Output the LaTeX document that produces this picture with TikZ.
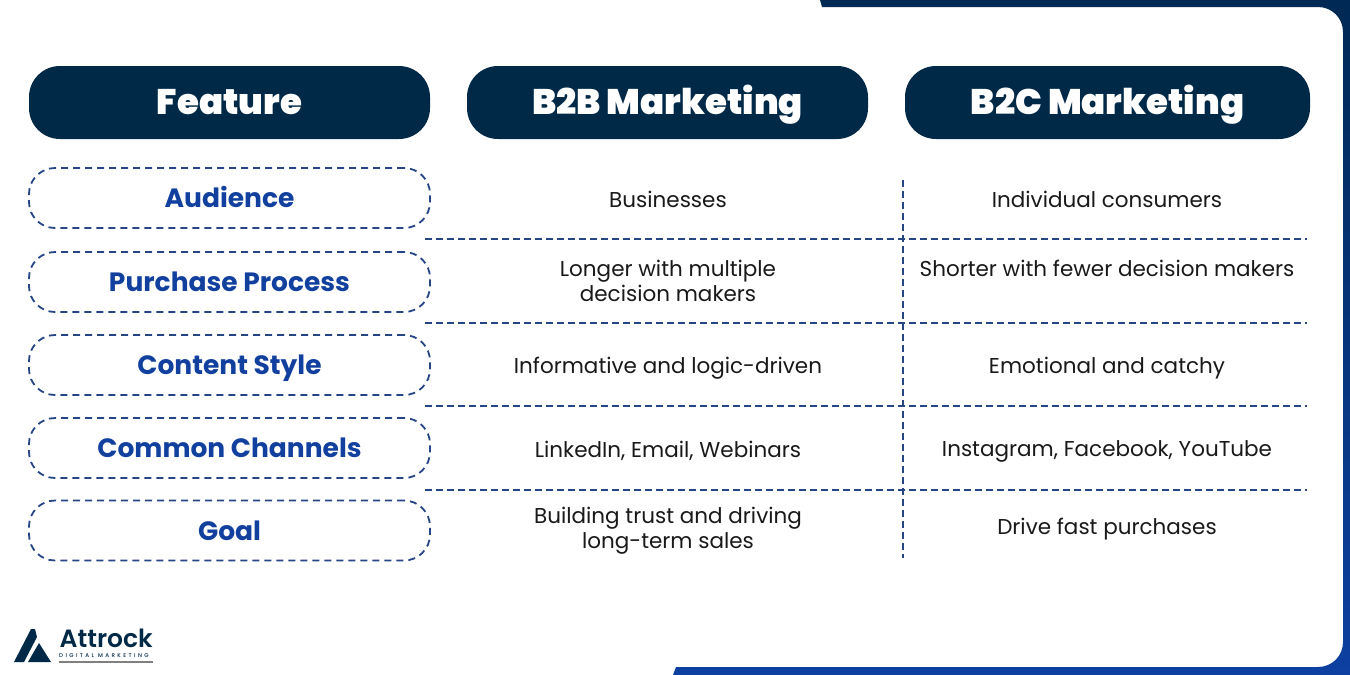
\documentclass[tikz,border=0pt]{standalone}
\usepackage{fontspec}
\setmainfont{Poppins}
\newfontfamily\headfont{Poppins Black}
\newfontfamily\rowfont{Poppins Bold}
\newfontfamily\logofont{Poppins SemiBold}
\newfontfamily\logosmall[LetterSpace=44]{Poppins Medium}
\definecolor{navyhead}{rgb}{0.,0.16,0.28}
\definecolor{framenavy}{rgb}{0.,0.16,0.33}
\definecolor{frameblue}{rgb}{0.05,0.25,0.63}
\definecolor{rowblue}{rgb}{0.07,0.25,0.62}
\definecolor{dashblue}{rgb}{0.15,0.27,0.52}
\definecolor{bodygrey}{rgb}{0.1,0.1,0.1}
\tikzset{
	headbox/.style={fill=navyhead,text=white,rounded corners=31pt,minimum height=73pt,text height=24pt,text depth=1pt,font=\headfont\fontsize{35.5}{36}\selectfont,inner sep=0pt},
	rowbox/.style={draw=dashblue,line width=1.8pt,dash pattern=on 7pt off 5pt,text=rowblue,rounded corners=26pt,minimum width=401pt,minimum height=60pt,text height=20pt,text depth=1pt,font=\rowfont\fontsize{26.5}{27}\selectfont,inner sep=0pt},
	cell/.style={text=bodygrey,align=center,font=\fontsize{21.5}{25}\selectfont,inner sep=0pt},
	gridline/.style={dashblue,line width=1.8pt,dash pattern=on 7pt off 4pt}
}
\begin{document}
\begin{tikzpicture}[line join=round,x=1pt,y=-1pt]
	\useasboundingbox (0,0) rectangle (1350,675);
	% frame
	\shade[top color=framenavy,bottom color=frameblue] (820,0) -- (1350,0) -- (1350,675) -- (673,675) -- (676,667) -- (1318,667) .. controls (1332,667) and (1343,656) .. (1343,642) -- (1343,32) .. controls (1343,18) and (1332,7) .. (1318,7) -- (822,7) -- cycle;
	% heads
	\node (feature) [headbox,minimum width=401pt] at (229.5,102.5) {Feature};
	\node (btob) [headbox,minimum width=401pt] at (667.5,102.5) {B2B Marketing};
	\node (btoc) [headbox,minimum width=405pt] at (1107.5,102.5) {B2C Marketing};
	% left column
	\node (audience) [rowbox] at (229.5,198) {Audience};
	\node (purchase) [rowbox] at (229.5,282) {Purchase Process};
	\node (content) [rowbox] at (229.5,365) {Content Style};
	\node (channels) [rowbox] at (229.5,448) {Common Channels};
	\node (goal) [rowbox] at (229.5,530.5) {Goal};
	% b2b column
	\node (audienceb) [cell] at (668,199.5) {Businesses};
	\node (purchaseb) [cell] at (668,281) {Longer with multiple\\decision makers};
	\node (contentb) [cell] at (668,368) {Informative and logic-driven};
	\node (channelsb) [cell] at (668,450.5) {LinkedIn, Email, Webinars};
	\node (goalb) [cell] at (668,530.5) {Building trust and driving\\long-term sales};
	% b2c column
	\node (audiencec) [cell] at (1107,199.5) {Individual consumers};
	\node (purchasec) [cell] at (1107,268.5) {Shorter with fewer decision makers};
	\node (contentc) [cell] at (1107,368) {Emotional and catchy};
	\node (channelsc) [cell] at (1107,451) {Instagram, Facebook, YouTube};
	\node (goalc) [cell] at (1107,529.5) {Drive fast purchases};
	% grid
	\coordinate (vtop) at (903,180);
	\coordinate (vbot) at (903,558);
	\draw [gridline] (vtop) -- (vbot);
	\foreach \rowy in {239,323,406,490}
		\draw [gridline] (425,\rowy) -- (1307,\rowy);
	% logo
	\fill[navyhead] (31,629) -- (35,629) -- (37,637) -- (24,662) -- (14,662) -- cycle;
	\fill[navyhead] (39,643) -- (51,662) -- (28,662) -- cycle;
	\node (attrock) [text=navyhead,anchor=west,inner sep=0pt,font=\logofont\fontsize{25}{25}\selectfont] at (59.5,638) {Attrock};
	\node (digital) [text=navyhead,anchor=west,inner sep=0pt,font=\logosmall\fontsize{5.5}{6}\selectfont] at (59,655.5) {DIGITAL MARKETING};
	\fill[gray] (59,661) rectangle (153,662.5);
\end{tikzpicture}
\end{document}
